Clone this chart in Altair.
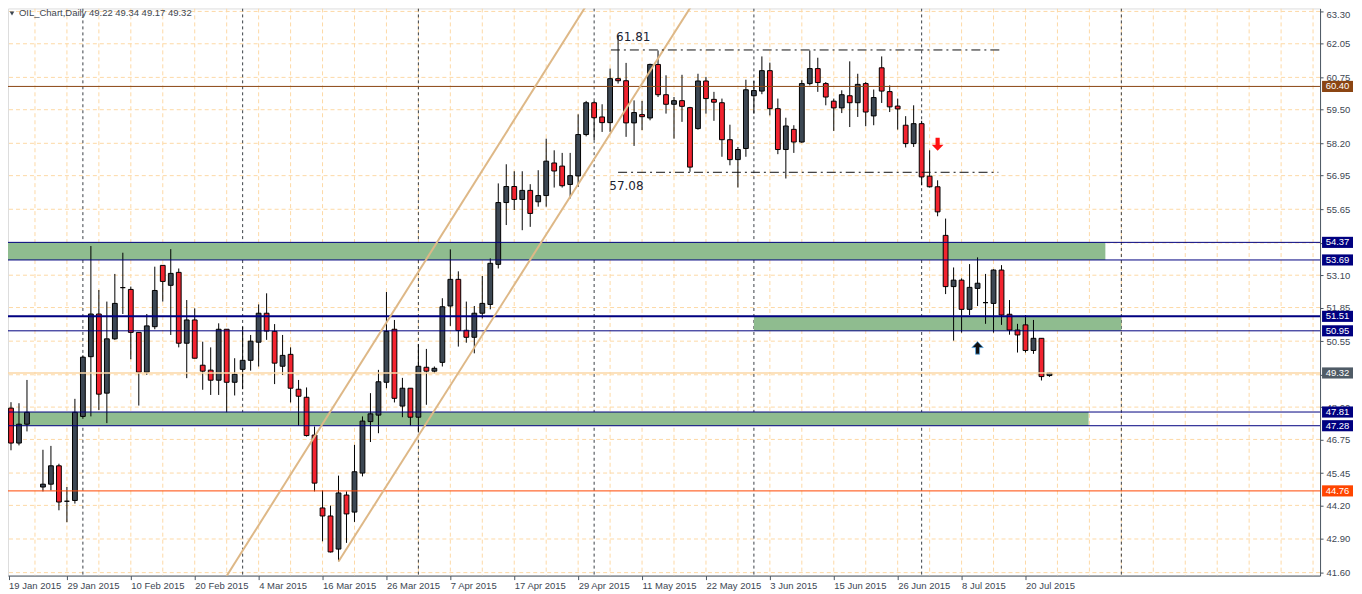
import altair as alt
import pandas as pd

# ---------------- data ----------------
idx = [0, 1, 2, 3, 5, 6, 7, 8, 9, 10, 11, 12, 13, 14, 15, 16, 17, 18, 19, 20,
       21, 22, 23, 24, 25, 26, 27, 28, 29, 30, 31, 32, 33, 34, 35, 36, 37, 38, 39, 40,
       41, 42, 43, 44, 45, 46, 47, 48, 49, 50, 51, 52, 53, 54, 55, 56, 57, 58, 59, 60,
       61, 62, 63, 64, 65, 66, 67, 68, 69, 70, 71, 72, 73, 74, 75, 76, 77, 78, 79, 80,
       81, 82, 83, 84, 85, 86, 87, 88, 89, 90, 91, 92, 93, 94, 95, 96, 97, 98, 99, 100,
       101, 102, 103, 104, 105, 106, 107, 108, 109, 110, 111, 112, 113, 114, 115, 116, 117, 118, 119, 120,
       121, 122, 123, 124, 125, 126, 127, 128, 129, 130, 131]
opens = [49.18, 47.96, 46.61, 47.34, 44.91, 45.02, 45.73, 44.36, 44.39, 47.64,
         49.95, 51.60, 48.54, 50.64, 52.62, 52.55, 50.89, 49.35, 51.11, 53.48,
         52.71, 53.21, 50.47, 51.37, 49.62, 49.43, 49.04, 51.01, 48.96, 49.46,
         49.81, 50.51, 51.63, 50.93, 49.58, 50.04, 48.69, 48.38, 46.92, 44.10,
         43.79, 42.51, 44.60, 43.94, 45.45, 47.44, 47.69, 48.96, 51.01, 48.04,
         48.73, 47.61, 49.54, 49.39, 49.73, 51.91, 52.94, 50.97, 50.70, 51.63,
         51.97, 53.52, 55.91, 56.53, 56.03, 56.38, 55.94, 56.18, 57.44, 57.32,
         56.61, 56.94, 58.54, 59.77, 59.22, 59.00, 60.70, 60.62, 58.99, 59.31,
         59.18, 61.25, 60.08, 59.71, 59.85, 59.58, 58.77, 60.61, 59.90, 59.77,
         58.34, 57.57, 58.00, 60.04, 60.22, 61.01, 59.54, 57.96, 58.74, 58.25,
         60.51, 61.09, 60.51, 59.83, 59.57, 60.04, 59.77, 60.51, 59.26, 61.12,
         60.20, 59.64, 58.90, 58.19, 58.96, 56.93, 56.52, 54.64, 52.66, 52.91,
         51.78, 52.59, 52.04, 52.01, 53.30, 51.59, 50.98, 51.18, 50.19, 50.66,
         49.22]
highs = [49.25, 48.19, 48.15, 49.05, 46.35, 46.50, 45.81, 44.91, 48.32, 50.00,
         54.23, 52.53, 52.08, 53.15, 53.97, 52.66, 50.89, 51.60, 53.43, 53.48,
         54.11, 53.36, 52.14, 51.82, 50.53, 50.31, 51.24, 51.01, 49.89, 51.11,
         50.79, 51.97, 52.40, 51.21, 50.79, 50.31, 49.05, 48.76, 47.25, 44.78,
         44.19, 45.35, 44.74, 46.54, 47.64, 48.54, 49.44, 52.45, 51.37, 49.13,
         48.73, 50.43, 50.25, 49.57, 52.21, 54.10, 53.25, 52.08, 51.91, 53.07,
         53.75, 56.65, 57.39, 57.12, 57.12, 56.62, 57.16, 58.38, 57.93, 57.83,
         57.83, 59.32, 59.84, 59.84, 59.71, 61.09, 62.37, 61.31, 59.86, 59.84,
         61.28, 61.79, 60.83, 59.99, 60.85, 59.61, 60.89, 60.77, 60.19, 59.93,
         58.92, 58.06, 60.66, 60.61, 61.56, 61.32, 59.93, 59.19, 58.90, 60.64,
         61.79, 61.51, 60.57, 59.93, 60.25, 61.37, 60.89, 60.57, 60.28, 61.56,
         60.44, 59.93, 59.25, 59.67, 59.07, 57.93, 56.77, 55.29, 53.40, 52.98,
         53.53, 53.79, 53.15, 53.33, 53.49, 52.14, 51.22, 51.56, 51.37, 50.66,
         49.34]
lows = [47.80, 46.33, 46.52, 47.06, 44.74, 44.78, 44.01, 43.55, 44.27, 47.55,
        47.64, 47.89, 47.38, 50.60, 51.60, 49.85, 48.06, 49.25, 51.01, 52.08,
        50.79, 50.31, 49.12, 49.89, 48.67, 48.47, 48.47, 47.80, 48.45, 48.69,
        49.41, 49.57, 50.60, 48.89, 49.25, 48.18, 47.28, 46.86, 44.74, 42.81,
        42.38, 42.04, 42.75, 43.56, 45.32, 46.65, 46.99, 48.73, 48.18, 47.61,
        47.28, 47.02, 48.09, 49.31, 49.57, 51.14, 50.34, 50.49, 50.08, 51.43,
        51.78, 53.36, 55.04, 55.62, 54.84, 54.97, 55.75, 55.75, 56.49, 56.49,
        56.07, 56.52, 58.47, 58.32, 58.64, 58.64, 60.51, 58.45, 58.10, 58.71,
        59.09, 59.99, 59.35, 58.38, 59.03, 57.10, 58.73, 59.35, 59.07, 57.68,
        57.35, 56.49, 57.68, 59.35, 60.10, 59.28, 57.78, 56.84, 57.83, 58.22,
        60.44, 60.19, 59.67, 58.68, 59.37, 58.83, 59.22, 58.86, 58.90, 59.76,
        59.41, 58.73, 58.04, 58.06, 56.58, 56.49, 55.38, 52.37, 50.57, 50.88,
        51.56, 51.91, 51.22, 50.88, 51.18, 50.80, 50.11, 50.11, 50.06, 49.03,
        49.17]
closes = [47.83, 46.61, 47.34, 47.80, 45.02, 45.73, 44.33, 44.36, 47.80, 49.93,
          51.60, 48.50, 50.64, 52.01, 52.62, 50.89, 49.35, 51.14, 52.51, 52.86,
          53.17, 50.47, 51.37, 49.89, 49.39, 49.04, 51.01, 48.96, 49.27, 49.81,
          50.55, 51.63, 50.94, 49.70, 50.00, 48.73, 48.42, 46.90, 45.06, 43.79,
          42.40, 44.68, 43.87, 45.50, 47.46, 47.74, 48.98, 50.93, 48.34, 48.73,
          47.61, 49.58, 49.39, 49.50, 51.88, 52.94, 50.96, 50.70, 51.63, 52.01,
          53.56, 55.91, 56.53, 56.03, 56.38, 55.49, 56.18, 57.51, 57.13, 56.56,
          56.95, 58.54, 59.77, 59.19, 59.00, 60.70, 60.62, 58.99, 59.39, 59.23,
          61.25, 60.08, 59.71, 59.85, 59.63, 57.28, 60.61, 59.93, 59.79, 58.34,
          57.57, 57.96, 60.27, 60.24, 61.01, 59.54, 57.96, 58.87, 58.25, 60.51,
          61.09, 60.55, 59.99, 59.57, 60.08, 59.77, 60.48, 59.41, 59.97, 60.22,
          59.61, 59.53, 58.19, 58.96, 56.90, 56.52, 55.55, 52.66, 52.91, 51.78,
          52.63, 52.79, 52.04, 53.30, 51.56, 50.98, 50.79, 50.19, 50.66, 49.18,
          49.32]

date_labels = ["19 Jan 2015", "29 Jan 2015", "10 Feb 2015", "20 Feb 2015", "4 Mar 2015",
               "16 Mar 2015", "26 Mar 2015", "7 Apr 2015", "17 Apr 2015", "29 Apr 2015",
               "11 May 2015", "22 May 2015", "3 Jun 2015", "15 Jun 2015", "26 Jun 2015",
               "8 Jul 2015", "20 Jul 2015"]
price_ticks = [63.30, 62.05, 60.75, 59.50, 58.20, 56.95, 55.65, 54.35, 53.10, 51.85,
               50.55, 49.25, 48.00, 46.75, 45.45, 44.20, 42.90, 41.60]
separators = [10, 30, 52, 74, 94, 115, 140]

level_vals = [60.40, 54.37, 53.69, 51.51, 50.95, 47.81, 47.28, 44.76, 49.32]
level_line_colors = ["#8b4513", "#000080", "#000080", "#000080", "#000080",
                     "#000080", "#000080", "#ff4500", "#fbd7a6"]
level_box_colors = ["#8b4513", "#000080", "#000080", "#000080", "#000080",
                    "#000080", "#000080", "#ff4500", "#4f5b66"]
level_widths = [1, 1, 1, 2, 1, 1, 1, 1, 1.5]

zone_low = [53.69, 50.95, 47.28]
zone_high = [54.37, 51.51, 47.81]
zone_start = [-5, 94, -5]
zone_end = [138, 140, 135.9]

channel_id = ["upper", "upper", "lower", "lower"]
channel_i = [25, 75, 42, 88]
channel_p = [40.00, 64.50, 42.03, 64.40]

fib_levels = [61.81, 57.08]
fib_start = [76.1, 77.0]
fib_end = [125.0, 124.6]
fib_text = ["61.81", "57.08"]
fib_text_i = [76.75, 75.9]
fib_text_p = [62.30, 56.54]

arrow_i = [117, 122]
arrow_p = [58.16, 50.29]
arrow_dir = ["down", "up"]

title_text = "OIL_Chart,Daily  49.22 49.34 49.17 49.32"

# ---------------- chart ----------------
W, H = 1314, 568
AXC = "#4a5561"
LBL = "#3d4753"
FONT = "Liberation Sans"

xs = alt.Scale(domain=[0.625, 164.875], nice=False, zero=False)
ys = alt.Scale(domain=[41.485, 63.416], nice=False, zero=False)

label_js = "[" + ",".join("'" + s + "'" for s in date_labels) + "]"
x_axis = alt.Axis(values=[0.7] + list(range(8, 129, 8)),
                  labelExpr=label_js + "[round(datum.value/8)]",
                  title=None, grid=False, tickSize=4, tickColor=AXC, domainColor=AXC,
                  labelAlign="left", labelBaseline="top", labelPadding=1,
                  labelFont=FONT, labelFontSize=9.5, labelColor=LBL,
                  labelOverlap=False, labelFlush=False)
y_axis = alt.Axis(orient="right", values=price_ticks, format=".2f", title=None, grid=False,
                  tickSize=3, tickColor=AXC, domainColor=AXC, labelPadding=3,
                  labelFont=FONT, labelFontSize=9.5, labelColor=LBL,
                  labelOffset={"condition": {"test": "datum.value > 63", "value": 3}, "value": 0},
                  labelOverlap=False, labelFlush=False)


def X(f):
    return alt.X(f, type="quantitative", scale=xs, axis=x_axis)


def Y(f):
    return alt.Y(f, type="quantitative", scale=ys, axis=y_axis)


candles = pd.DataFrame({"i": idx, "o": opens, "h": highs, "l": lows, "c": closes})

vgrid = alt.Chart(pd.DataFrame({"g": list(range(0, 168, 4))})).mark_rule(
    color="#fdd9a6", strokeWidth=1, strokeDash=[4, 3], clip=True).encode(x=X("g"))
hgrid = alt.Chart(pd.DataFrame({"p": price_ticks})).mark_rule(
    color="#fdd9a6", strokeWidth=1, strokeDash=[4, 3], clip=True).encode(y=Y("p"))
seps = alt.Chart(pd.DataFrame({"s": separators})).mark_rule(
    color="#3a3f45", strokeWidth=1, strokeDash=[3, 3], clip=True).encode(x=X("s"))

zones = alt.Chart(pd.DataFrame({"a": zone_start, "b": zone_end, "lo": zone_low, "hi": zone_high})).mark_rect(
    color="#8fbc8f", clip=True).encode(x=X("a"), x2="b", y=Y("lo"), y2="hi")

wicks = alt.Chart(candles).mark_rule(color="black", strokeWidth=1, clip=True).encode(
    x=X("i"), y=Y("l"), y2="h")
bodies = alt.Chart(candles).transform_calculate(
    x1="datum.i - 0.3", x2="datum.i + 0.3").mark_rect(
    stroke="black", strokeWidth=1, clip=True).encode(
    x=X("x1"), x2="x2", y=Y("o"), y2="c",
    fill=alt.condition("datum.c < datum.o", alt.value("#f2232f"), alt.value("#3c4753")))

levels = pd.DataFrame({"v": level_vals, "lc": level_line_colors, "bc": level_box_colors,
                       "w": level_widths})
level_lines = alt.Chart(levels).mark_rule(clip=True).encode(
    y=Y("v"), color=alt.Color("lc:N", scale=None), strokeWidth=alt.StrokeWidth("w:Q", scale=None))

channels = alt.Chart(pd.DataFrame({"id": channel_id, "i": channel_i, "p": channel_p})).mark_line(
    color="#deb887", strokeWidth=2, clip=True).encode(x=X("i"), y=Y("p"), detail="id:N")

fib = pd.DataFrame({"a": fib_start, "b": fib_end, "v": fib_levels})
fib_lines = alt.Chart(fib).mark_rule(color="#111111", strokeWidth=1, strokeDash=[9, 4, 2, 4],
                                     clip=True).encode(x=X("a"), x2="b", y=Y("v"))
fib_labels = alt.Chart(pd.DataFrame({"t": fib_text, "i": fib_text_i, "p": fib_text_p})).mark_text(
    align="left", baseline="middle", font="DejaVu Sans", fontSize=12, color="#1c2333").encode(
    x=X("i"), y=Y("p"), text="t:N")

DOWN = "M-0.32,-1 L0.32,-1 L0.32,0.05 L0.9,0.05 L0,1 L-0.9,0.05 L-0.32,0.05 Z"
UP = "M-0.32,1 L0.32,1 L0.32,-0.05 L0.9,-0.05 L0,-1 L-0.9,-0.05 L-0.32,-0.05 Z"
arrows_df = pd.DataFrame({"i": arrow_i, "p": arrow_p, "d": arrow_dir})
arrow_down = alt.Chart(arrows_df).transform_filter("datum.d == 'down'").mark_point(
    shape=DOWN, filled=True, size=170, color="#ff1010", opacity=1).encode(x=X("i"), y=Y("p"))
arrow_up = alt.Chart(arrows_df).transform_filter("datum.d == 'up'").mark_point(
    shape=UP, filled=True, size=160, color="#111111", stroke="#5aa9e6", strokeWidth=0.8,
    opacity=1).encode(x=X("i"), y=Y("p"))

box_df = levels.assign(t=[f"{v:.2f}" for v in level_vals])
boxes = alt.Chart(box_df).transform_calculate(
    top="datum.v + 0.215", bot="datum.v - 0.215").mark_rect().encode(
    x=alt.value(W + 2), x2=alt.value(W + 33), y=Y("top"), y2="bot",
    color=alt.Color("bc:N", scale=None))
box_text = alt.Chart(box_df).mark_text(
    align="center", baseline="middle", font=FONT, fontSize=9.5, color="white").encode(
    x=alt.value(W + 17.5), y=Y("v"), text="t:N")

title_df = pd.DataFrame({"t": [title_text]})
title_tri = alt.Chart(title_df).mark_point(
    shape="triangle-down", filled=True, size=22, color="#3d4753", opacity=1).encode(
    x=alt.value(4), y=alt.value(5))
title_mark = alt.Chart(title_df).mark_text(
    align="left", baseline="middle", font=FONT, fontSize=9.5, color="#3d4753").encode(
    x=alt.value(11), y=alt.value(5), text="t:N")

chart = alt.layer(
    vgrid, hgrid, seps, zones, wicks, bodies, level_lines, channels, fib_lines,
    fib_labels, arrow_down, arrow_up, boxes, box_text, title_tri, title_mark
).properties(
    width=W, height=H,
    autosize=alt.AutoSizeParams(type="none"),
    padding={"left": 0, "top": 0, "right": 34, "bottom": 16},
).configure_view(
    stroke=AXC, strokeWidth=1
).configure(background="white")

chart.save("out.html", embed_options={"renderer": "svg", "actions": False})
